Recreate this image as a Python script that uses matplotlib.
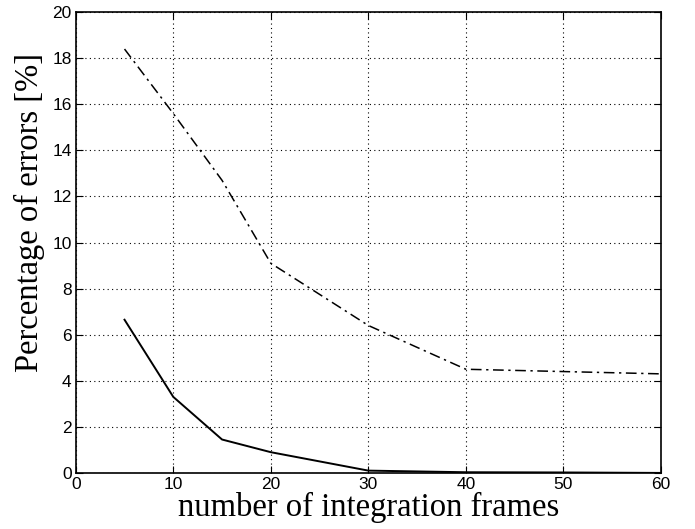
import matplotlib
matplotlib.use('Agg')
import matplotlib.pyplot as plt

frames = [5, 10, 15, 20, 30, 40, 50, 60]
err_dashdot = [18.4, 15.6, 12.7, 9.1, 6.4, 4.5, 4.4, 4.3]
err_solid = [6.65, 3.3, 1.45, 0.9, 0.1, 0.03, 0.02, 0.0]

fig = plt.figure(figsize=(6.95, 5.29), dpi=100)
ax = fig.add_axes([0.109, 0.106, 0.842, 0.871])

ax.plot(frames, err_dashdot, color='black', lw=1.1, linestyle=(0, (7, 3, 1.5, 3)))
ax.plot(frames, err_solid, color='black', lw=1.4)

ax.set_xlim(0, 60)
ax.set_ylim(0, 20)
ax.set_xticks(range(0, 61, 10))
ax.set_yticks(range(0, 21, 2))
ax.grid(True, color='black', linestyle=(0, (1, 3)), linewidth=0.8)
ax.tick_params(direction='in', top=True, right=True, length=5, pad=3, labelsize=12.5)
for lab in ax.get_xticklabels() + ax.get_yticklabels():
    lab.set_family(['Liberation Sans', 'DejaVu Sans'])
for sp in ax.spines.values():
    sp.set_linewidth(1.2)

ax.set_xlabel('number of integration frames', family='Liberation Serif', fontsize=23.5, labelpad=0)
ax.set_ylabel('Percentage of errors [%]', family='Liberation Serif', fontsize=23.5)
# label sits a bit above the axis centre in the original
ax.yaxis.set_label_coords(-0.052, 0.566)

fig.savefig('out.png', dpi=100)
